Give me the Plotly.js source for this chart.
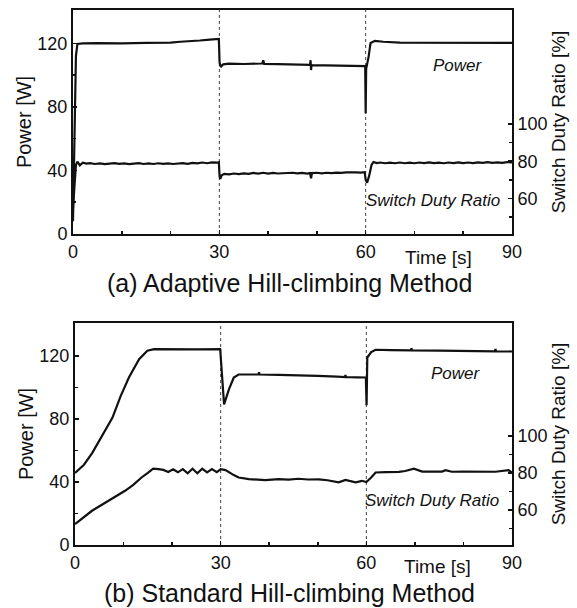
<!DOCTYPE html>
<html>
<head>
<meta charset="utf-8">
<script src="https://cdn.plot.ly/plotly-3.0.1.min.js"></script>
<style>html,body{margin:0;padding:0;background:#fff;}#chart{width:577px;height:608px;}</style>
</head>
<body>
<div id="chart"></div>
<script>
// ---------- DATA ----------
const xTicks = [0, 30, 60, 90];
const powerTicks = [0, 40, 80, 120];
const dutyTicks = [60, 80, 100];
const dutyTickLabels = ['60', '80', '100'];
const eventTimes = [30, 60];

// (a) Adaptive hill-climbing: power [W]
const tPowerA = [0, 0.3, 0.6, 0.9, 2, 5, 10, 15, 18, 20, 22, 24, 26, 28, 29.5, 29.9, 30.05, 30.3, 30.8, 32, 35, 38.8, 39, 39.2, 42, 45, 48.6, 48.7, 48.8, 48.9, 49.0, 52, 55, 58, 59.9, 60.0, 60.1, 60.6, 61, 61.9, 63.6, 67, 75, 90];
const powerA  = [8, 60, 112, 119.6, 120, 120.2, 120, 120.3, 120.2, 120.5, 121, 121.3, 121.8, 122.4, 123, 122.8, 108, 105.2, 106.8, 107.2, 107, 107.3, 109.4, 107, 106.9, 106.6, 106.5, 109.4, 103.2, 106.4, 106.3, 106.2, 106.0, 105.8, 105.7, 76, 104, 111.5, 120.3, 121.6, 121, 120.5, 120.4, 120.3];

// (a) Adaptive hill-climbing: switch duty ratio [%]
const tDutyA = [0, 0.3, 0.6, 0.9, 1.4, 2, 2.8, 3.5, 4.5, 5.5, 6.5, 7.5, 8.5, 9.5, 10.5, 11.5, 12.5, 13.5, 14.5, 15.5, 16.5, 17.5, 18.5, 19.5, 20.5, 21.5, 22.5, 23.5, 24.5, 25.5, 26.5, 27.5, 28.5, 29.5, 29.9,
  30.05, 30.2, 30.5, 31, 32, 33, 34, 35, 36, 37, 38, 39, 40, 41, 42, 43, 44, 45, 46, 47, 48, 48.6, 48.8, 49, 50, 51, 52, 53, 54, 55, 56, 57, 58, 59, 59.8,
  60, 60.3, 60.7, 61.2, 61.6, 62.3, 63, 64, 65, 66, 67, 68, 69, 70, 71, 72, 73, 74, 75, 76, 77, 78, 79, 80, 81, 82, 83, 84, 85, 86, 87, 88, 89, 90];
const dutyA  = [55, 68, 78, 79.8, 77.8, 79.2, 78.7, 79.0, 78.5, 78.8, 78.4, 78.7, 79.0, 78.6, 78.8, 78.4, 78.6, 79.0, 78.5, 78.8, 78.5, 78.9, 78.6, 78.8, 78.5, 78.8, 79.0, 78.6, 79.1, 78.8, 79.3, 78.9, 79.4, 79.2, 79.5,
  72, 70.5, 72.5, 73.2, 72.9, 73.4, 73.1, 73.5, 73.2, 73.7, 73.4, 73.8, 73.4, 73.7, 73.4, 73.6, 73.4, 73.8, 73.5, 73.7, 73.4, 73.7, 70.8, 73.6, 73.8, 73.5, 73.8, 73.6, 73.9, 73.7, 74.0, 73.8, 74.0, 73.9, 74.1,
  70, 68.5, 72, 78, 79.6, 79.0, 79.3, 78.9, 79.2, 78.9, 79.3, 78.9, 79.2, 78.9, 79.3, 79.0, 79.4, 79.0, 79.2, 78.9, 79.3, 79.0, 79.4, 79.0, 79.3, 79.0, 79.4, 79.1, 79.5, 79.1, 79.4, 79.1, 79.5, 79.4];

// (b) Standard hill-climbing: power [W]
const tPowerB = [0, 1.85, 3.56, 5.6, 7.7, 9.4, 11.1, 13.2, 14.9, 16.3, 20, 25, 29.9, 30.1, 30.7, 31.7, 32.7, 33.7, 36, 37.8, 37.9, 38.0, 42, 46, 50, 54, 55.6, 55.7, 55.8, 58, 59.9, 60.05, 60.2, 61, 61.9, 65, 69.2, 69.3, 69.4, 75, 80, 86.5, 86.6, 86.7, 90];
const powerB  = [45.8, 51, 58.5, 69.1, 80.8, 94.6, 106.4, 118, 123.4, 124.4, 124.2, 124.3, 124.4, 115, 89.3, 98.9, 106.4, 108.3, 108.2, 108.3, 109.8, 108.3, 108.0, 107.8, 107.4, 106.9, 106.7, 108, 106.7, 106.5, 106.4, 88.7, 119.1, 122.5, 124, 123.8, 123.6, 125, 123.6, 123.4, 123.2, 123, 124.5, 123, 122.9];

// (b) Standard hill-climbing: switch duty ratio [%]
const tDutyB = [0, 1.8, 3.5, 5.2, 6.9, 8.6, 10.3, 12, 13.7, 15, 16.1, 17.2, 18.2, 19.2, 20.2, 21.2, 22.2, 23.2, 24.2, 25.2, 26.2, 27.2, 28.2, 29.2, 30, 31, 31.7, 32.7, 33.7, 35.8, 39.2, 41.9, 44, 46, 48, 50.2, 52, 54.3, 55.7, 57, 57.8, 59.1, 60, 61, 61.9, 64, 66.7, 68, 69.8, 71.5, 73, 75.6, 76.3, 77.6, 80, 83, 86.6, 89.3, 90];
const dutyB  = [52.3, 56, 59.5, 62.2, 64.9, 67.6, 70.3, 73.5, 77.5, 80, 82.3, 82, 81.6, 80.5, 81.9, 80.3, 82, 79.8, 82.2, 79.8, 82.3, 80.2, 82, 80.4, 82, 81.5, 80.2, 78.8, 77.5, 76.6, 76.1, 76.6, 76.3, 76.8, 76.4, 76.5, 76.0, 74.9, 76.2, 75.3, 74.9, 75.7, 75.0, 77.5, 80.2, 80.4, 80.5, 81, 82.3, 80.7, 80.8, 80.7, 81.4, 80.6, 80.7, 80.5, 80.6, 81.4, 80.2];

// ---------- STYLE ----------
const FONT = 'Liberation Sans, Arial, Helvetica, sans-serif';
const lineStyle = {color: '#111', width: 2.2};

const traces = [
  {x: tPowerA, y: powerA, xaxis: 'x', yaxis: 'y', mode: 'lines', line: lineStyle, name: 'Power (a)'},
  {x: tDutyA, y: dutyA, xaxis: 'x', yaxis: 'y2', mode: 'lines', line: lineStyle, name: 'Duty (a)'},
  {x: tPowerB, y: powerB, xaxis: 'x2', yaxis: 'y3', mode: 'lines', line: lineStyle, name: 'Power (b)'},
  {x: tDutyB, y: dutyB, xaxis: 'x2', yaxis: 'y4', mode: 'lines', line: lineStyle, name: 'Duty (b)'}
];

const tickFont = {family: FONT, size: 18, color: '#111'};
const titleFont = {family: FONT, size: 19, color: '#111'};

function xAx(domain, anchor) {
  return {
    domain: domain, anchor: anchor, range: [0, 90],
    tickmode: 'array', tickvals: xTicks, ticktext: xTicks.map(String),
    ticks: 'inside', ticklen: 4, tickwidth: 1.5, tickcolor: '#111',
    minor: {dtick: 10, tick0: 0, ticks: 'inside', ticklen: 3, tickcolor: '#111'},
    showline: true, linecolor: '#111', linewidth: 2, mirror: true,
    showgrid: false, zeroline: false, tickfont: tickFont
  };
}
function yLeft(domain, anchor) {
  return {
    domain: domain, anchor: anchor, range: [0, 141],
    tickmode: 'array', tickvals: powerTicks, ticktext: powerTicks.map(String),
    ticks: 'inside', ticklen: 4, tickwidth: 1.5, tickcolor: '#111',
    minor: {tickmode: 'array', tickvals: [20, 60, 100], ticks: 'inside', ticklen: 3, tickcolor: '#111'},
    showline: true, linecolor: '#111', linewidth: 2, mirror: true,
    showgrid: false, zeroline: false, tickfont: tickFont,
    title: {text: 'Power [W]', font: {family: FONT, size: 20, color: '#111'}, standoff: 0}
  };
}
function yRight(overlay, anchor) {
  return {
    overlaying: overlay, anchor: anchor, side: 'right', range: [41, 161],
    tickmode: 'array', tickvals: dutyTicks, ticktext: dutyTickLabels,
    ticks: 'inside', ticklen: 4, tickwidth: 1.5, tickcolor: '#111',
    minor: {tickmode: 'array', tickvals: [50, 70, 90], ticks: 'inside', ticklen: 3, tickcolor: '#111'},
    showline: true, linecolor: '#111', linewidth: 2,
    showgrid: false, zeroline: false, tickfont: tickFont,
    title: {text: 'Switch Duty Ratio [%]', font: titleFont, standoff: 3}
  };
}

const shapes = [];
[['x', 'y'], ['x2', 'y3']].forEach(function (p) {
  eventTimes.forEach(function (t) {
    shapes.push({type: 'line', xref: p[0], yref: p[1] + ' domain', x0: t, x1: t, y0: 0, y1: 1,
      line: {color: '#444', width: 1, dash: 'dot'}, layer: 'below'});
  });
});

const annFont = {family: FONT, size: 17, color: '#111', style: 'italic'};
const subFont = {family: FONT, size: 25, color: '#111'};
const annotations = [
  {xref: 'x', yref: 'y', x: 79, y: 106, text: 'Power', font: annFont},
  {xref: 'x', yref: 'y', x: 73.8, y: 20.8, text: 'Switch Duty Ratio', font: annFont},
  {xref: 'x2', yref: 'y3', x: 78.4, y: 109, text: 'Power', font: annFont},
  {xref: 'x2', yref: 'y3', x: 73.5, y: 28.1, text: 'Switch Duty Ratio', font: annFont},
  {xref: 'x', yref: 'paper', x: 75, y: 1 - 257 / 608, text: 'Time [s]', font: titleFont},
  {xref: 'x2', yref: 'paper', x: 74.7, y: 1 - 566 / 608, text: 'Time [s]', font: titleFont},
  {xref: 'paper', yref: 'paper', x: 289 / 577, y: 1 - 283 / 608, text: '(a) Adaptive Hill-climbing Method', font: subFont},
  {xref: 'paper', yref: 'paper', x: 289 / 577, y: 1 - 593 / 608, text: '(b) Standard Hill-climbing Method', font: subFont}
].map(function (a) { return Object.assign({showarrow: false, xanchor: 'center', yanchor: 'middle', borderpad: 0}, a); });

const layout = {
  width: 577, height: 608,
  margin: {l: 0, r: 0, t: 0, b: 0},
  paper_bgcolor: '#fff', plot_bgcolor: '#fff',
  showlegend: false,
  font: {family: FONT, color: '#111'},
  xaxis: xAx([73 / 577, 512 / 577], 'y'),
  yaxis: yLeft([1 - 234 / 608, 1 - 10 / 608], 'x'),
  yaxis2: yRight('y', 'x'),
  xaxis2: xAx([75 / 577, 512 / 577], 'y3'),
  yaxis3: yLeft([1 - 545 / 608, 1 - 323 / 608], 'x2'),
  yaxis4: yRight('y3', 'x2'),
  shapes: shapes,
  annotations: annotations
};

Plotly.newPlot('chart', traces, layout, {staticPlot: true, displayModeBar: false});
</script>
</body>
</html>
